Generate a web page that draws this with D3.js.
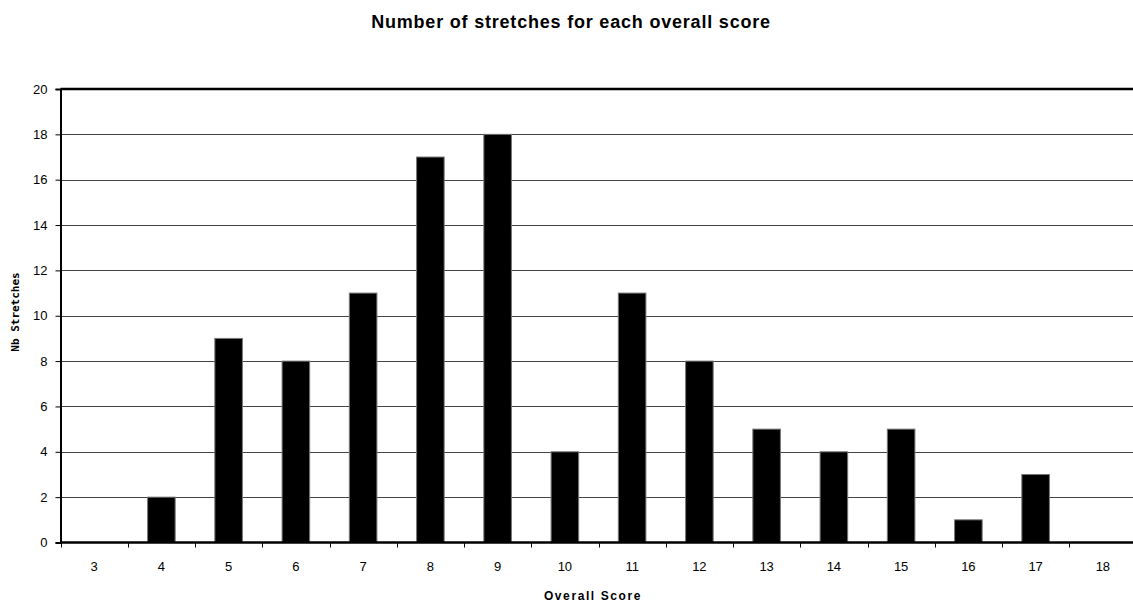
<!DOCTYPE html>
<html>
<head>
<meta charset="utf-8">
<script src="https://cdn.jsdelivr.net/npm/d3@7"></script>
<style>
  html, body { margin: 0; padding: 0; background: #fff; }
  svg { display: block; font-family: "Liberation Sans", Arial, sans-serif; }
</style>
</head>
<body>
<svg id="chart" width="1133" height="605"></svg>
<script>
// Overall score categories and number of stretches per score
const scores = ["3", "4", "5", "6", "7", "8", "9", "10", "11", "12", "13", "14", "15", "16", "17", "18"];
const stretches = [0, 2, 9, 8, 11, 17, 18, 4, 11, 8, 5, 4, 5, 1, 3, 0];
const yTicks = [0, 2, 4, 6, 8, 10, 12, 14, 16, 18, 20];

const svg = d3.select("#chart");
const margin = { left: 60.5, top: 89, right: 1136.5, bottom: 542.5 };

const x = d3.scaleBand()
  .domain(scores)
  .range([margin.left, margin.right])
  .paddingInner(0.59)
  .paddingOuter(0.295);

const y = d3.scaleLinear()
  .domain([0, 20])
  .range([margin.bottom, margin.top]);

// Title
svg.append("text")
  .attr("x", 571)
  .attr("y", 28)
  .attr("text-anchor", "middle")
  .attr("font-size", 18)
  .attr("font-weight", "bold")
  .attr("letter-spacing", 0.8)
  .text("Number of stretches for each overall score");

// Horizontal gridlines
svg.append("g")
  .selectAll("line")
  .data(yTicks.filter(d => d > 0 && d < 20))
  .join("line")
  .attr("x1", margin.left)
  .attr("x2", margin.right)
  .attr("y1", d => Math.round(y(d)) + 0.5)
  .attr("y2", d => Math.round(y(d)) + 0.5)
  .attr("stroke", "#444")
  .attr("stroke-width", 1);

// Bars
svg.append("g")
  .selectAll("rect")
  .data(scores.map((s, i) => ({ s, v: stretches[i] })).filter(d => d.v > 0))
  .join("rect")
  .attr("x", d => x(d.s))
  .attr("y", d => y(d.v))
  .attr("width", x.bandwidth())
  .attr("height", d => y(0) - y(d.v))
  .attr("fill", "#000")
  .attr("stroke", "#777")
  .attr("stroke-width", 1);

// Top border
svg.append("line")
  .attr("x1", margin.left)
  .attr("x2", margin.right)
  .attr("y1", margin.top)
  .attr("y2", margin.top)
  .attr("stroke", "#000")
  .attr("stroke-width", 2.5);

// Y axis
const yAxis = d3.axisLeft(y)
  .tickValues(yTicks)
  .tickSize(5)
  .tickPadding(8)
  .tickFormat(d3.format("d"));

const gy = svg.append("g")
  .attr("transform", `translate(${margin.left},0)`)
  .call(yAxis);
gy.select(".domain").attr("stroke", "#000").attr("stroke-width", 2);
gy.selectAll(".tick line").attr("stroke", "#000");
gy.selectAll(".tick text")
  .attr("font-size", 13)
  .attr("font-family", "Liberation Sans, Arial, sans-serif")
  .attr("fill", "#000");

// X axis: labels centered on bands, ticks at band boundaries
const gx = svg.append("g")
  .attr("transform", `translate(0,${margin.bottom})`);
gx.append("line")
  .attr("x1", margin.left)
  .attr("x2", margin.right)
  .attr("stroke", "#000")
  .attr("stroke-width", 2.5);
const step = x.step();
gx.selectAll("line.tk")
  .data(scores.concat(["end"]))
  .join("line")
  .attr("class", "tk")
  .attr("x1", (d, i) => Math.round(margin.left + i * step) + 0.5)
  .attr("x2", (d, i) => Math.round(margin.left + i * step) + 0.5)
  .attr("y1", 0)
  .attr("y2", 5)
  .attr("stroke", "#000");
gx.selectAll("text")
  .data(scores)
  .join("text")
  .attr("x", d => x(d) + x.bandwidth() / 2)
  .attr("y", 28)
  .attr("text-anchor", "middle")
  .attr("font-size", 13)
  .text(d => d);

// Axis titles
svg.append("text")
  .attr("x", 593)
  .attr("y", 600)
  .attr("text-anchor", "middle")
  .attr("font-size", 12)
  .attr("font-weight", "bold")
  .attr("letter-spacing", 1.6)
  .text("Overall Score");

svg.append("text")
  .attr("transform", "translate(19,312) rotate(-90)")
  .attr("text-anchor", "middle")
  .attr("font-size", 11)
  .attr("font-weight", "bold")
  .attr("font-family", "DejaVu Sans Mono, monospace")
  .text("Nb Stretches");
</script>
</body>
</html>
